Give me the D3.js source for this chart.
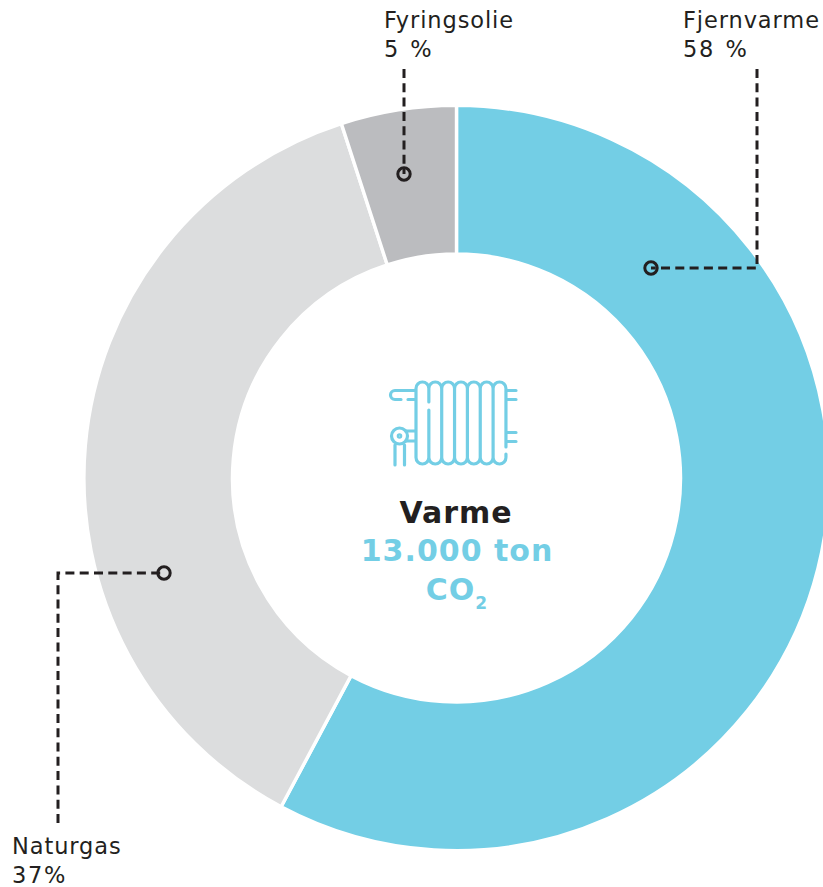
<!DOCTYPE html>
<html>
<head>
<meta charset="utf-8">
<script src="https://cdn.jsdelivr.net/npm/d3@7"></script>
<style>
  html, body { margin: 0; padding: 0; background: #fff; overflow: hidden; }
  svg { display: block; }
  text { font-family: "DejaVu Sans", sans-serif; fill: #231f20; }
</style>
</head>
<body>
<div id="chart"></div>
<script>
var categories = ["Fjernvarme", "Naturgas", "Fyringsolie"];
var shares = [57.8, 37.2, 5];
var shareLabels = ["58 %", "37%", "5 %"];

var width = 823, height = 887;
var cx = 456.5, cy = 478, outerR = 372.6, innerR = 224;
var blue = "#73cee5", dark = "#231f20";

var color = d3.scaleOrdinal()
  .domain(categories)
  .range([blue, "#dcddde", "#bbbcbf"]);

var svg = d3.select("#chart").append("svg")
  .attr("width", width)
  .attr("height", height);

// donut
var pie = d3.pie().sort(null).value((d, i) => shares[i]);
var arc = d3.arc().innerRadius(innerR).outerRadius(outerR);

svg.append("g")
  .attr("transform", "translate(" + cx + "," + cy + ")")
  .selectAll("path")
  .data(pie(categories))
  .enter().append("path")
  .attr("d", arc)
  .attr("fill", d => color(d.data))
  .attr("stroke", "#fff")
  .attr("stroke-width", 3.4);

// leader lines, from the far end to the dot
var leaders = [
  { pts: [[757, 69], [757, 268], [651, 268]], tx: 683, ty: 28 },
  { pts: [[58, 823], [58, 573], [164, 573]], tx: 12, ty: 854 },
  { pts: [[404, 69], [404, 174]], tx: 384, ty: 28 }
];

var line = d3.line();

var leader = svg.selectAll("g.leader")
  .data(leaders)
  .enter().append("g")
  .attr("class", "leader");

leader.append("path")
  .attr("d", d => line(d.pts))
  .attr("fill", "none")
  .attr("stroke", dark)
  .attr("stroke-width", 3)
  .attr("stroke-dasharray", "9 5.3");

leader.append("circle")
  .attr("cx", d => d.pts[d.pts.length - 1][0])
  .attr("cy", d => d.pts[d.pts.length - 1][1])
  .attr("r", 6.2)
  .attr("fill", "none")
  .attr("stroke", dark)
  .attr("stroke-width", 3);

leader.append("text")
  .attr("x", d => d.tx)
  .attr("y", d => d.ty)
  .attr("font-size", 22.5)
  .attr("letter-spacing", 0.9)
  .text((d, i) => categories[i]);

leader.append("text")
  .attr("x", d => d.tx)
  .attr("y", d => d.ty + 29)
  .attr("font-size", 22.5)
  .attr("letter-spacing", 1.7)
  .attr("word-spacing", 1.5)
  .text((d, i) => shareLabels[i]);

// radiator icon
var icon = svg.append("g")
  .attr("fill", "none")
  .attr("stroke", blue)
  .attr("stroke-width", 3.2)
  .attr("stroke-linecap", "round");

var tubeW = 12.85, left = 416, top_ = 381, bottom = 465;
var body = d3.path();
d3.range(7).forEach(i => {
  var x = left + i * tubeW;
  body.moveTo(x, top_ + 8);
  body.arc(x + tubeW / 2, top_ + tubeW / 2 + 1, tubeW / 2, Math.PI, 0);
});
d3.range(7).forEach(i => {
  var x = left + i * tubeW;
  body.moveTo(x, bottom - 8);
  body.arc(x + tubeW / 2, bottom - tubeW / 2 - 1, tubeW / 2, Math.PI, 0, true);
});
d3.range(8).forEach(i => {
  var x = left + i * tubeW;
  if (i == 1) {
    body.moveTo(x, top_ + 8); body.lineTo(x, 402);
    body.moveTo(x, 410); body.lineTo(x, bottom - 8);
  } else if (i == 7) {
    body.moveTo(x, top_ + 8); body.lineTo(x, 447);
    body.moveTo(x, 454); body.lineTo(x, bottom - 8);
  } else {
    body.moveTo(x, top_ + 8); body.lineTo(x, bottom - 8);
  }
});
[390.5, 399.5, 432.5, 441.5].forEach(y => {
  body.moveTo(left + 7 * tubeW, y); body.lineTo(516, y);
});
// hook pipe top left
body.moveTo(415, 390.5); body.lineTo(395, 390.5);
body.arc(395, 395, 4.5, -Math.PI / 2, Math.PI / 2, true);
body.lineTo(401, 399.5);
body.moveTo(408, 399.5); body.lineTo(415, 399.5);
// valve connection and legs
body.moveTo(406, 431); body.lineTo(415, 431);
body.moveTo(406, 441); body.lineTo(415, 441);
body.moveTo(395, 445); body.lineTo(395, 465);
body.moveTo(404.5, 445); body.lineTo(404.5, 465);

icon.append("path").attr("d", body.toString());
icon.append("circle").attr("cx", 399.5).attr("cy", 436).attr("r", 8);
icon.append("circle").attr("cx", 399.5).attr("cy", 436).attr("r", 1.2);

// centre text
var title = svg.append("g")
  .attr("text-anchor", "middle")
  .attr("font-weight", "bold")
  .attr("font-size", 30)
  .attr("letter-spacing", 1);

title.append("text")
  .attr("x", 456).attr("y", 523)
  .text("Varme");

title.append("text")
  .attr("x", 457).attr("y", 561)
  .style("fill", blue)
  .text("13.000 ton");

var co2 = title.append("text")
  .attr("x", 457).attr("y", 600)
  .style("fill", blue);
co2.append("tspan").text("CO");
co2.append("tspan").attr("font-size", 17).attr("dy", 9).text("2");
</script>
</body>
</html>
